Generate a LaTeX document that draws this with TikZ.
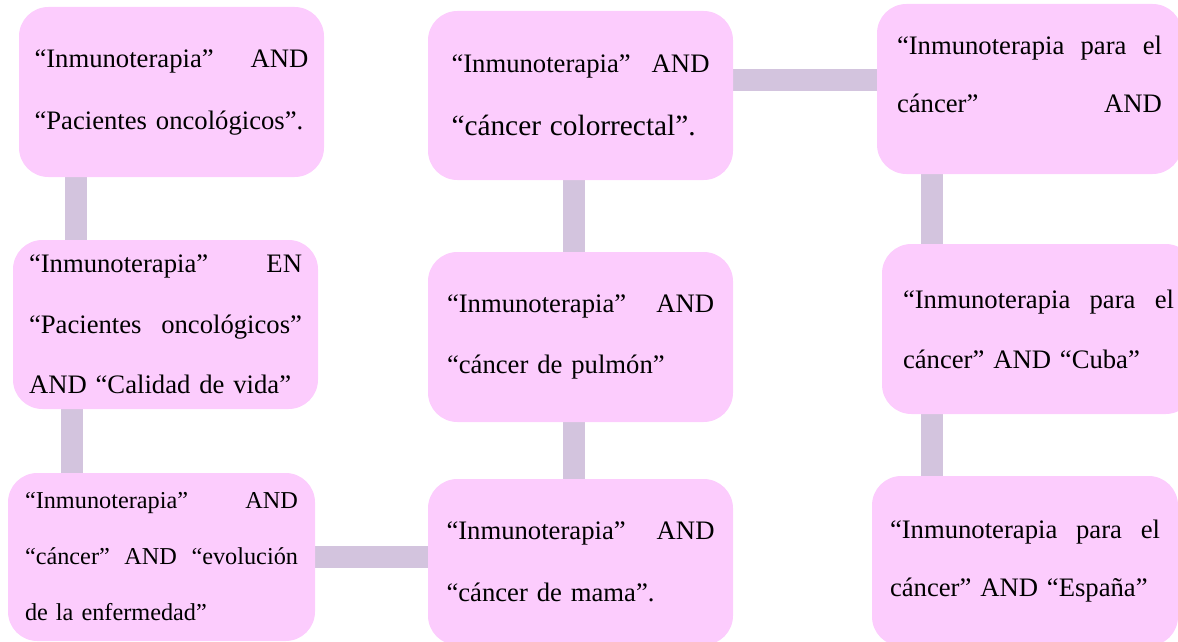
\documentclass[tikz,border=0pt]{standalone}
\usepackage{fontspec}
\setmainfont{Liberation Serif}
\usepackage{tikz}
\usetikzlibrary{backgrounds}

\definecolor{rosa}{HTML}{FCCCFD}
\definecolor{lila}{HTML}{D3C4DE}

\tikzset{
  caja/.style={rectangle, rounded corners=22pt, fill=rosa, draw=none, inner sep=0pt, align=left},
  enlace/.style={line width=16.5pt, draw=lila},
}

\begin{document}
\begin{tikzpicture}[x=0.75pt,y=-0.75pt]

    % Marco de la figura
    \useasboundingbox (0,0) rectangle (1178,642);

    % Columna izquierda
    \node[caja, minimum width=228.75pt, minimum height=127.5pt, text width=205.5pt,
          font=\fontsize{20}{46.5}\selectfont] (b1) at (171.5,92)
        {“Inmunoterapia”\hfill AND\\ “Pacientes oncológicos”.};
    \node[caja, minimum width=228.75pt, minimum height=126.75pt, text width=204.75pt,
          font=\fontsize{20}{45.5}\selectfont] (b2) at (165.5,324.5)
        {“Inmunoterapia”\hfill EN\\ “Pacientes\hfill oncológicos”\\ AND “Calidad de vida”};
    \node[caja, minimum width=230.25pt, minimum height=126pt, text width=204.75pt,
          font=\fontsize{18.2}{42}\selectfont] (b3) at (161.5,557)
        {“Inmunoterapia”\hfill AND\\ “cáncer”\hfill AND\hfill “evolución\\ de la enfermedad”};

    % Columna central
    \node[caja, minimum width=228.75pt, minimum height=126.75pt, text width=193.5pt,
          font=\fontsize{20}{47}\selectfont] (b6) at (580.5,95.5)
        {“Inmunoterapia”\hfill AND\\ \fontsize{22}{47}\selectfont “cáncer colorrectal”.};
    \node[caja, minimum width=228.75pt, minimum height=127.5pt, text width=200.25pt,
          font=\fontsize{20}{46}\selectfont] (b5) at (580.5,337)
        {“Inmunoterapia”\hfill AND\\ “cáncer de pulmón”};
    \node[caja, minimum width=228.75pt, minimum height=124.5pt, text width=201pt,
          font=\fontsize{20}{46.5}\selectfont] (b4) at (580.5,562)
        {“Inmunoterapia”\hfill AND\\ “cáncer de mama”.};

    % Columna derecha
    \node[caja, minimum width=228.75pt, minimum height=127.5pt, text width=198.75pt, text depth=65pt,
          font=\fontsize{20}{43}\selectfont] (b7) at (1029.5,89)
        {“Inmunoterapia\hfill para\hfill el\\ cáncer”\hfill AND};
    \node[caja, minimum width=234.75pt, minimum height=127.5pt, text width=203.25pt,
          font=\fontsize{20}{45}\selectfont] (b8) at (1038.5,329)
        {“Inmunoterapia\hfill para\hfill el\\ cáncer” AND “Cuba”};
    \node[caja, minimum width=229.5pt, minimum height=127.5pt, text width=202.5pt,
          font=\fontsize{20}{44}\selectfont] (b9) at (1025,561)
        {“Inmunoterapia\hfill para\hfill el\\ cáncer” AND “España”};

    % Enlaces detras de las cajas
    \begin{scope}[on background layer]
        \draw[enlace] ([xshift=42.75pt]b1.south west) -- ([xshift=42.75pt]b1.south west |- b2.north);
        \draw[enlace] ([xshift=44.25pt]b2.south west) -- ([xshift=44.25pt]b2.south west |- b3.north);
        \draw[enlace] (b3.east) -- (b3.east -| b4.west);
        \draw[enlace] ([xshift=-4.875pt]b6.south) -- ([xshift=-4.875pt]b6.south |- b5.north);
        \draw[enlace] ([xshift=-4.875pt]b5.south) -- ([xshift=-4.875pt]b5.south |- b4.north);
        \draw[enlace] ([yshift=11.6pt]b6.east) -- ([yshift=11.6pt]b6.east -| b7.west);
        \draw[enlace] ([xshift=41.25pt]b7.south west) -- ([xshift=41.25pt]b7.south west |- b8.north);
        \draw[enlace] ([xshift=37.5pt]b8.south west) -- ([xshift=37.5pt]b8.south west |- b9.north);
    \end{scope}
\end{tikzpicture}
\end{document}
